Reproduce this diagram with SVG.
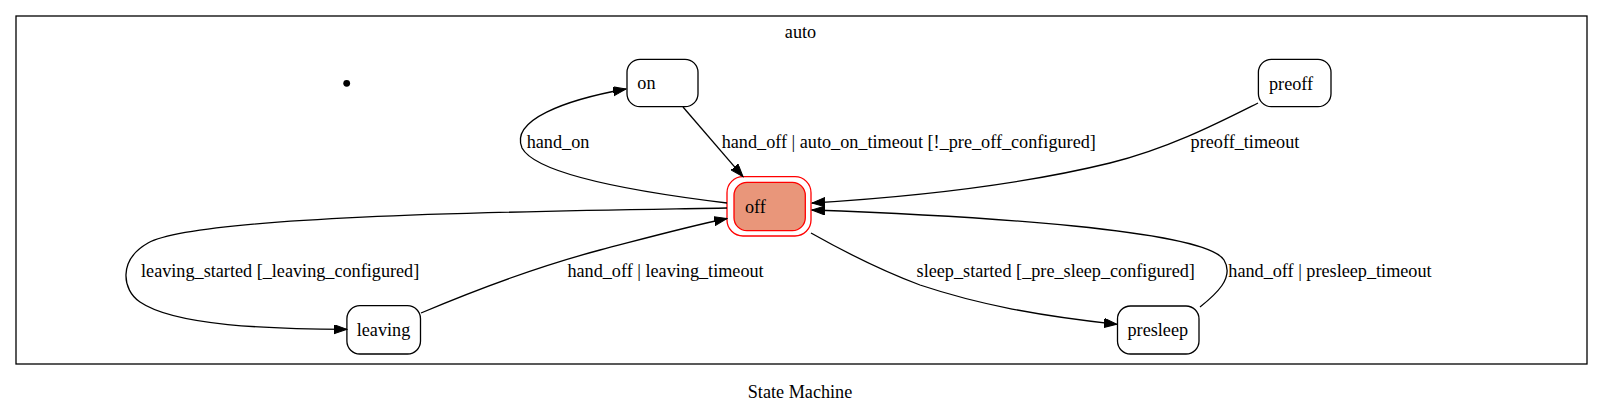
<svg xmlns="http://www.w3.org/2000/svg" width="1603" height="413" viewBox="0 0 1603 413">
<style>
text{font-family:"Liberation Serif","Times New Roman",serif;font-size:18.2px;fill:#000}
.st{fill:#fff;stroke:#000;stroke-width:1.3}
.e{fill:none;stroke:#000;stroke-width:1.3}
</style>
<defs>
<marker id="ah" markerUnits="userSpaceOnUse" markerWidth="14" markerHeight="10" refX="13" refY="4.6" orient="auto">
<path d="M0,0 L13,4.6 L0,9.2 Z" fill="#000" stroke="#000" stroke-width="1"/>
</marker>
</defs>
<rect width="1603" height="413" fill="#fff"/>
<g id="cluster_auto">
<rect x="16" y="16" width="1571" height="348" fill="none" stroke="#000" stroke-width="1.3"/>
<text x="800.5" y="37.5" text-anchor="middle">auto</text>
</g>
<text x="800" y="397.5" text-anchor="middle">State Machine</text>
<g id="initial"><circle cx="346.7" cy="83.3" r="3.4" fill="#000"/></g>
<g id="on"><rect class="st" x="627" y="59.3" width="71" height="47.4" rx="13"/><text x="637.3" y="89">on</text></g>
<g id="preoff"><rect class="st" x="1258.4" y="59.3" width="72.6" height="47.4" rx="13"/><text x="1269" y="89.5">preoff</text></g>
<g id="off">
<rect x="727" y="176.7" width="84" height="59.3" rx="16" fill="none" stroke="#ff0000" stroke-width="1.3"/>
<rect x="734" y="182.3" width="71.3" height="48.4" rx="13" fill="#e9967a" stroke="#ff0000" stroke-width="1.3"/>
<text x="745" y="212.7">off</text>
</g>
<g id="leaving"><rect class="st" x="346.9" y="305.7" width="73.6" height="48.3" rx="13"/><text x="356.7" y="335.7">leaving</text></g>
<g id="presleep"><rect class="st" x="1117.5" y="306" width="81.5" height="48" rx="13"/><text x="1127.5" y="336">presleep</text></g>
<g id="connectors">
<path class="e" marker-end="url(#ah)" d="M683,107 L743,176.7"/>
<path class="e" marker-end="url(#ah)" d="M727,203 C620,190 535,172 522,148 C510,120 565,100 626,89"/>
<path class="e" marker-end="url(#ah)" d="M727,208 C560,211 200,214 148,243 C118,260 122,290 140,302 C175,326 270,329 346.9,329.3"/>
<path class="e" marker-end="url(#ah)" d="M421,313 C480,288 540,266 600,250 C650,237 690,226 727,218.5"/>
<path class="e" marker-end="url(#ah)" d="M1258,103 C1220,122 1170,148 1110,163 C1020,185 910,197 812,203"/>
<path class="e" marker-end="url(#ah)" d="M1200,307 C1215,295 1235,278 1224,260 C1205,230 980,216 812,210"/>
<path class="e" marker-end="url(#ah)" d="M811,233 C850,255 880,270 920,285 C980,305 1040,316 1117,324.3"/>
<text x="526.7" y="148.3">hand_on</text>
<text x="721.7" y="148.3">hand_off | auto_on_timeout [!_pre_off_configured]</text>
<text x="1190.6" y="148.3">preoff_timeout</text>
<text x="141" y="276.5">leaving_started [_leaving_configured]</text>
<text x="567.4" y="276.5">hand_off | leaving_timeout</text>
<text x="916.6" y="276.7">sleep_started [_pre_sleep_configured]</text>
<text x="1228.3" y="276.7">hand_off | presleep_timeout</text>
</g>
</svg>
